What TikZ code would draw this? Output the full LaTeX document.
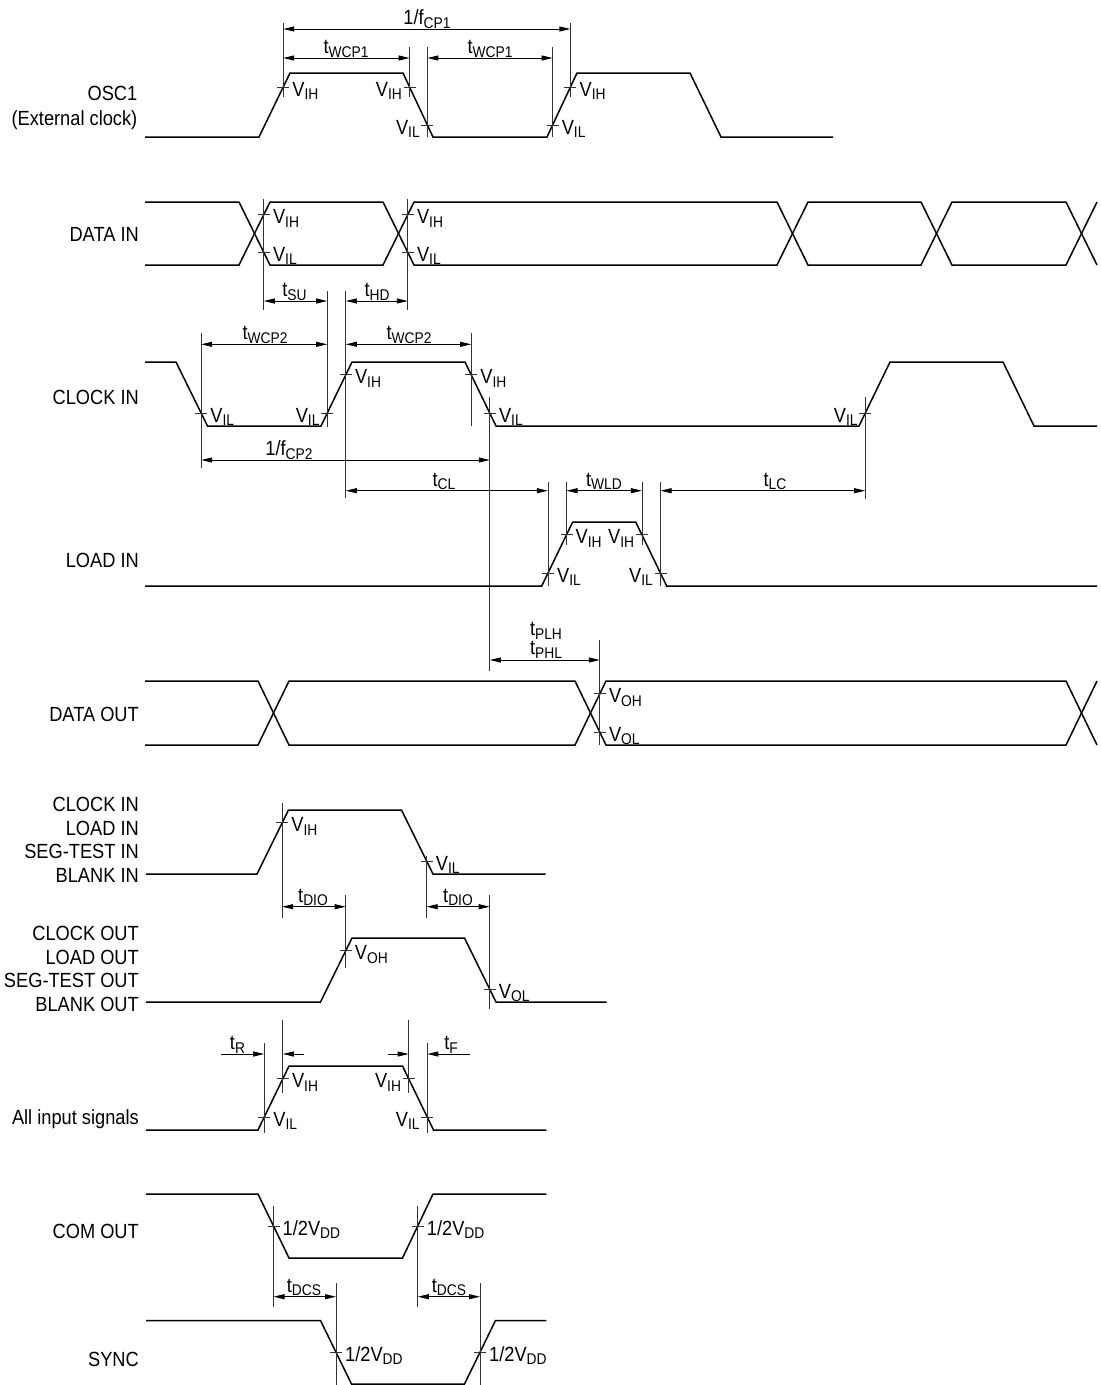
\documentclass[tikz,border=0pt]{standalone}
\usepackage{fontspec}
\setmainfont{Liberation Sans}[FakeStretch=0.89]
\usetikzlibrary{arrows.meta}
\newcommand\sbs[1]{\raisebox{-3.5pt}{\fontsize{15.5}{15.5}\selectfont #1}}
\newcommand\tmk[2]{\draw[tk] ({#1-6},#2) -- ({#1+6},#2);}
\newcommand\rlab[4]{\tmk{#2}{#3}\node[ann,anchor=base west] (#1) at ({#2+9},{#3+9}) {#4};}
\newcommand\llab[4]{\tmk{#2}{#3}\node[ann,anchor=base east] (#1) at ({#2-7.5},{#3+9}) {#4};}
\newcommand\dlab[4]{\node[ann,anchor=base] (#1) at (#2,#3) {#4};}
\tikzset{
  sig/.style={line width=1.5pt, black},
  ext/.style={line width=0.8pt, black!80},
  tk/.style={line width=0.8pt, black!80},
  dim/.style={line width=0.9pt, {Triangle[length=11pt,width=5pt]}-{Triangle[length=11pt,width=5pt]}},
  half/.style={line width=0.9pt, -{Triangle[length=11pt,width=5pt]}},
  ann/.style={inner sep=0pt},
  lab/.style={inner sep=0pt, anchor=base east}
}
\begin{document}
\begin{tikzpicture}[x=1pt,y=-1pt,font=\fontsize{20.5}{24}\selectfont]
\fill[white] (0,0) rectangle (1101,1385);
\useasboundingbox (0,0) rectangle (1101,1385);

% ---------------- OSC1
\node[lab] (osc) at (137.5,100.7) {OSC1};
\node[lab] (ext) at (137.5,125) {(External clock)};
\draw[sig] (145,137) -- (259,137) -- (290,73) -- (403,73) -- (433,137) -- (547,137) -- (577,73) -- (690,73) -- (721,137) -- (833,137);
\draw[ext] (283.2,23) -- (283.2,97);
\draw[ext] (409.6,47) -- (409.6,97);
\draw[ext] (427.4,47) -- (427.4,137);
\draw[ext] (552.6,47) -- (552.6,137);
\draw[ext] (570.4,23) -- (570.4,97);
\draw[dim] (283.2,29) -- (570.4,29);
\draw[dim] (283.2,58) -- (409.6,58);
\draw[dim] (427.4,58) -- (552.6,58);
\dlab{f1}{427}{24.5}{1/f\sbs{CP1}}
\dlab{w1}{346}{53.5}{t\sbs{WCP1}}
\dlab{w2}{490}{53.5}{t\sbs{WCP1}}
\rlab{o1}{283.2}{87}{V\sbs{IH}}
\llab{o2}{409.6}{87}{V\sbs{IH}}
\llab{o3}{427.4}{125}{V\sbs{IL}}
\rlab{o4}{552.6}{125}{V\sbs{IL}}
\rlab{o5}{570.4}{87}{V\sbs{IH}}

% ---------------- DATA IN
\node[lab] (din) at (139,241) {DATA IN};
\draw[sig] (145,202) -- (239,202) -- (270,265) -- (383,265) -- (414,202) -- (777,202) -- (808,265) -- (921,265) -- (952,202) -- (1066,202) -- (1097,265);
\draw[sig] (145,265) -- (239,265) -- (270,202) -- (383,202) -- (414,265) -- (777,265) -- (808,202) -- (921,202) -- (952,265) -- (1066,265) -- (1097,202);
\draw[ext] (263.8,199) -- (263.8,310);
\draw[ext] (407.8,199) -- (407.8,310);
\rlab{d1}{263.8}{214.6}{V\sbs{IH}}
\rlab{d2}{263.8}{252.4}{V\sbs{IL}}
\rlab{d3}{407.8}{214.6}{V\sbs{IH}}
\rlab{d4}{407.8}{252.4}{V\sbs{IL}}
\draw[dim] (263.8,301) -- (327.2,301);
\draw[dim] (345.8,301) -- (407.8,301);
\dlab{su}{294.5}{296.5}{t\sbs{SU}}
\dlab{hd}{377}{296.5}{t\sbs{HD}}

% ---------------- CLOCK IN
\node[lab] (cin) at (139,404) {CLOCK IN};
\draw[sig] (145,362) -- (176,362) -- (207.5,426) -- (321,426) -- (352,362) -- (465,362) -- (496,426) -- (859,426) -- (890,362) -- (1003,362) -- (1034,426) -- (1097,426);
\draw[ext] (201.2,333) -- (201.2,468);
\draw[ext] (327.2,291) -- (327.2,427);
\draw[ext] (345.8,291) -- (345.8,498);
\draw[ext] (471.2,333) -- (471.2,426);
\draw[ext] (489.8,397) -- (489.8,671);
\draw[ext] (865.2,397) -- (865.2,499);
\rlab{c1}{201.2}{413.2}{V\sbs{IL}}
\llab{c2}{327.2}{413.2}{V\sbs{IL}}
\rlab{c3}{345.8}{374.8}{V\sbs{IH}}
\rlab{c4}{471.2}{374.8}{V\sbs{IH}}
\rlab{c5}{489.8}{413.2}{V\sbs{IL}}
\llab{c6}{865.2}{413.2}{V\sbs{IL}}
\draw[dim] (201.2,344.3) -- (327.2,344.3);
\draw[dim] (345.8,344.3) -- (471.2,344.3);
\draw[dim] (201.2,460) -- (489.8,460);
\dlab{wc1}{265}{339.8}{t\sbs{WCP2}}
\dlab{wc2}{409}{339.8}{t\sbs{WCP2}}
\dlab{fc2}{289}{455.5}{1/f\sbs{CP2}}

% ---------------- LOAD IN
\node[lab] (lin) at (139,567) {LOAD IN};
\draw[sig] (145,586) -- (541.7,586) -- (572.7,522) -- (635.7,522) -- (666.7,586) -- (1097,586);
\draw[ext] (547.9,481.7) -- (547.9,586);
\draw[ext] (566.5,481.7) -- (566.5,545);
\draw[ext] (641.9,481.7) -- (641.9,545);
\draw[ext] (660.5,481.7) -- (660.5,586);
\rlab{l1}{547.9}{573.2}{V\sbs{IL}}
\rlab{l2}{566.5}{534.8}{V\sbs{IH}}
\llab{l3}{641.9}{534.8}{V\sbs{IH}}
\llab{l4}{660.5}{573.2}{V\sbs{IL}}
\draw[dim] (345.8,490.7) -- (547.9,490.7);
\draw[dim] (566.5,490.7) -- (641.9,490.7);
\draw[dim] (660.5,490.7) -- (865.2,490.7);
\dlab{cl}{444}{486}{t\sbs{CL}}
\dlab{wld}{604}{486}{t\sbs{WLD}}
\dlab{lc}{775}{486}{t\sbs{LC}}

% ---------------- DATA OUT
\node[lab] (dout) at (139,721) {DATA OUT};
\draw[sig] (145,681) -- (258,681) -- (289,745) -- (575,745) -- (606,681) -- (1066,681) -- (1097,745);
\draw[sig] (145,745) -- (258,745) -- (289,681) -- (575,681) -- (606,745) -- (1066,745) -- (1097,681);
\draw[ext] (599.8,640) -- (599.8,745);
\rlab{do1}{599.8}{693.8}{V\sbs{OH}}
\rlab{do2}{599.8}{732.2}{V\sbs{OL}}
\draw[dim] (489.8,660) -- (599.8,660);
\dlab{plh}{546}{635.5}{t\sbs{PLH}}
\dlab{phl}{546}{654.5}{t\sbs{PHL}}

% ---------------- inputs group
\node[lab] (g1a) at (139,811) {CLOCK IN};
\node[lab] (g1b) at (139,835) {LOAD IN};
\node[lab] (g1c) at (139,858.5) {SEG-TEST IN};
\node[lab] (g1d) at (139,882.5) {BLANK IN};
\draw[sig] (146,874) -- (257,874) -- (288.5,810) -- (401.5,810) -- (433,874) -- (545.5,874);
\draw[ext] (282.2,803) -- (282.2,918);
\draw[ext] (426.7,856) -- (426.7,918);
\rlab{g1}{282.2}{822.8}{V\sbs{IH}}
\rlab{g2}{426.7}{861.2}{V\sbs{IL}}
\draw[dim] (282.2,906.7) -- (345.7,906.7);
\draw[dim] (426.7,906.7) -- (489.7,906.7);
\dlab{dio1}{313}{902}{t\sbs{DIO}}
\dlab{dio2}{458}{902}{t\sbs{DIO}}

% ---------------- outputs group
\node[lab] (g2a) at (139,940) {CLOCK OUT};
\node[lab] (g2b) at (139,964) {LOAD OUT};
\node[lab] (g2c) at (139,987.5) {SEG-TEST OUT};
\node[lab] (g2d) at (139,1011) {BLANK OUT};
\draw[sig] (146,1002) -- (320.5,1002) -- (352,938) -- (464.5,938) -- (496,1002) -- (606.7,1002);
\draw[ext] (345.7,895) -- (345.7,968);
\draw[ext] (489.7,895) -- (489.7,1009);
\rlab{h1}{345.7}{950.8}{V\sbs{OH}}
\rlab{h2}{489.7}{989.2}{V\sbs{OL}}

% ---------------- All input signals
\node[lab] (all) at (139,1124) {All input signals};
\draw[sig] (146,1130) -- (258,1130) -- (289,1066) -- (402.5,1066) -- (433.5,1130) -- (546.4,1130);
\draw[ext] (264.2,1043) -- (264.2,1133);
\draw[ext] (282.8,1020) -- (282.8,1093);
\draw[ext] (408.7,1020) -- (408.7,1093);
\draw[ext] (427.3,1043) -- (427.3,1133);
\rlab{a1}{264.2}{1117.2}{V\sbs{IL}}
\rlab{a2}{282.8}{1078.8}{V\sbs{IH}}
\llab{a3}{408.7}{1078.8}{V\sbs{IH}}
\llab{a4}{427.3}{1117.2}{V\sbs{IL}}
\draw[half] (221.4,1054) -- (264.2,1054);
\draw[half] (303.6,1054) -- (282.8,1054);
\draw[half] (387.5,1054) -- (408.7,1054);
\draw[half] (469.6,1054) -- (427.3,1054);
\dlab{tr}{237.5}{1049.5}{t\sbs{R}}
\dlab{tf}{451}{1049.5}{t\sbs{F}}

% ---------------- COM OUT
\node[lab] (com) at (139,1238.5) {COM OUT};
\draw[sig] (146,1194) -- (258,1194) -- (289,1258) -- (402.5,1258) -- (433,1194) -- (546.4,1194);
\draw[ext] (273.5,1206) -- (273.5,1307);
\draw[ext] (417.75,1206) -- (417.75,1307);
\rlab{m1}{273.5}{1226}{1/2V\sbs{DD}}
\rlab{m2}{417.75}{1226}{1/2V\sbs{DD}}
\draw[dim] (273.5,1296.7) -- (336,1296.7);
\draw[dim] (417.75,1296.7) -- (480,1296.7);
\dlab{dcs1}{304}{1292}{t\sbs{DCS}}
\dlab{dcs2}{449}{1292}{t\sbs{DCS}}

% ---------------- SYNC
\node[lab] (sync) at (139,1366) {SYNC};
\draw[sig] (146,1320.5) -- (320.5,1320.5) -- (351.5,1384) -- (464.5,1384) -- (495.5,1320.5) -- (546.4,1320.5);
\draw[ext] (336,1283) -- (336,1385);
\draw[ext] (480,1283) -- (480,1385);
\rlab{s1}{336}{1352.25}{1/2V\sbs{DD}}
\rlab{s2}{480}{1352.25}{1/2V\sbs{DD}}
\end{tikzpicture}
\end{document}
